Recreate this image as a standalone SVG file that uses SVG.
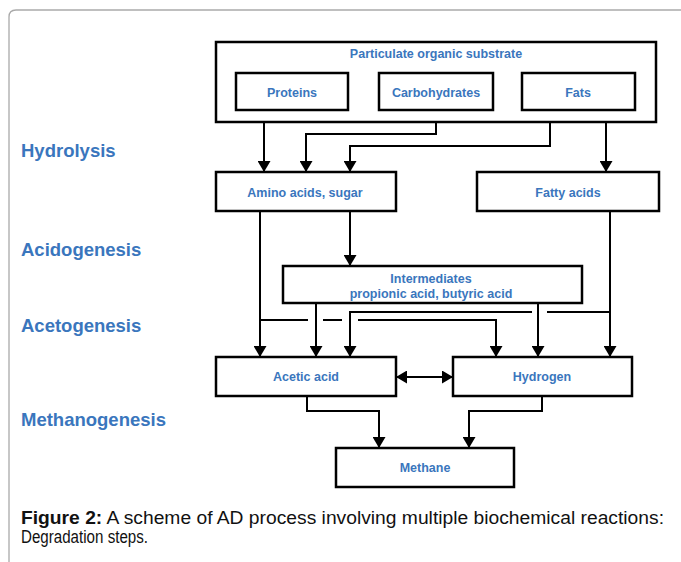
<svg xmlns="http://www.w3.org/2000/svg" width="681" height="562" viewBox="0 0 681 562">
<defs>
<style>
.box{fill:#fff;stroke:#000;stroke-width:2.5}
.lbl{font-family:"Liberation Sans",Arial,sans-serif;font-weight:bold;font-size:12.5px;fill:#3a76bd;text-anchor:middle}
.stage{font-family:"Liberation Sans",Arial,sans-serif;font-weight:bold;font-size:18.5px;fill:#3a76bd}
.cap{font-family:"Liberation Sans",Arial,sans-serif;font-size:17.5px;fill:#111}
.ln{fill:none;stroke:#000;stroke-width:2}
.arr{marker-end:url(#ah)}
</style>
<marker id="ah" markerUnits="userSpaceOnUse" markerWidth="11" markerHeight="13" viewBox="0 0 11 13" refX="11" refY="6.5" orient="auto-start-reverse">
<path d="M0,0 L11,6.5 L0,13 z" fill="#000"/>
</marker>
</defs>
<rect width="681" height="562" fill="#fff"/>
<path d="M9,562 V17 Q9,10 16,10 H681" fill="none" stroke="#aaa" stroke-width="1.3"/>

<g id="stages">
<text class="stage" x="21" y="157">Hydrolysis</text>
<text class="stage" x="21" y="256">Acidogenesis</text>
<text class="stage" x="21" y="332">Acetogenesis</text>
<text class="stage" x="21" y="426">Methanogenesis</text>
</g>

<g id="connectors">
<path class="ln arr" d="M264,110 V172"/>
<path class="ln arr" d="M436,110 V134 H306 V172"/>
<path class="ln arr" d="M550,110 V146 H350 V172"/>
<path class="ln arr" d="M606,110 V172"/>
<path class="ln arr" d="M350,211 V266"/>
<path class="ln arr" d="M260,211 V357"/>
<path class="ln" d="M260,320 H308 M323,320 H342"/>
<path class="ln arr" d="M358,320 H496 V357"/>
<path class="ln arr" d="M316,303 V357"/>
<path class="ln arr" d="M538,303 V357"/>
<path class="ln arr" d="M610,211 V357"/>
<path class="ln" d="M610,312 H547"/>
<path class="ln arr" d="M532,312 H350 V357"/>
<path class="ln arr" d="M396,377 H453" marker-start="url(#ah)"/>
<path class="ln arr" d="M307,396 V411 H379 V448"/>
<path class="ln arr" d="M542,396 V411 H469 V448"/>
</g>

<g id="substrate">
<rect class="box" x="216" y="42" width="440" height="80"/>
<text class="lbl" x="436" y="58">Particulate organic substrate</text>
</g>
<g id="proteins">
<rect class="box" x="236" y="73" width="112" height="37"/>
<text class="lbl" x="292" y="97">Proteins</text>
</g>
<g id="carbohydrates">
<rect class="box" x="379" y="73" width="114" height="37"/>
<text class="lbl" x="436" y="97">Carbohydrates</text>
</g>
<g id="fats">
<rect class="box" x="522" y="73" width="113" height="37"/>
<text class="lbl" x="578" y="97">Fats</text>
</g>
<g id="amino">
<rect class="box" x="216" y="172" width="180" height="39"/>
<text class="lbl" x="305" y="197">Amino acids, sugar</text>
</g>
<g id="fatty">
<rect class="box" x="477" y="172" width="182" height="39"/>
<text class="lbl" x="568" y="197">Fatty acids</text>
</g>
<g id="intermediates">
<rect class="box" x="283" y="266" width="299" height="37"/>
<text class="lbl" x="431" y="283">Intermediates</text>
<text class="lbl" x="431" y="298">propionic acid, butyric acid</text>
</g>
<g id="acetic">
<rect class="box" x="216" y="357" width="180" height="39"/>
<text class="lbl" x="306" y="381">Acetic acid</text>
</g>
<g id="hydrogen">
<rect class="box" x="453" y="357" width="179" height="39"/>
<text class="lbl" x="542" y="381">Hydrogen</text>
</g>
<g id="methane">
<rect class="box" x="336" y="448" width="178" height="39"/>
<text class="lbl" x="425" y="472">Methane</text>
</g>

<g id="caption">
<text class="cap" x="21" y="524" textLength="643" lengthAdjust="spacingAndGlyphs"><tspan font-weight="bold">Figure 2:</tspan> A scheme of AD process involving multiple biochemical reactions:</text>
<text class="cap" x="21" y="543" textLength="127" lengthAdjust="spacingAndGlyphs">Degradation steps.</text>
</g>
</svg>
